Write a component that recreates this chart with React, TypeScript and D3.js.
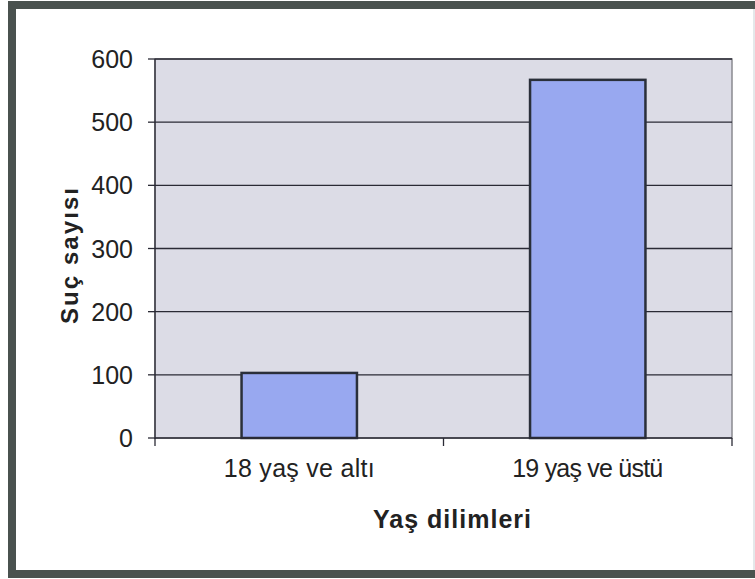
import React from "react";
import * as d3 from "d3";

const categories = ["18 yaş ve altı", "19 yaş ve üstü"];
const values = [103, 567];
const yTicks = [0, 100, 200, 300, 400, 500, 600];
const xTitle = "Yaş dilimleri";
const yTitle = "Suç sayısı";

export default function App() {
  const W = 755, H = 579;
  const left = 155, right = 732, top = 59, bottom = 438;
  const x = d3.scaleBand<string>().domain(categories).range([left, right]).paddingInner(0.6).paddingOuter(0.3);
  const band = d3.scaleBand<string>().domain(categories).range([left, right]);
  const y = d3.scaleLinear().domain([0, 600]).range([bottom, top]);
  const font = "Arial, 'Liberation Sans', sans-serif";
  return (
    <svg width={W} height={H} style={{ position: "absolute", left: 0, top: 0, display: "block" }}>
      <rect x={0} y={0} width={W} height={H} fill="#ffffff" />
      <rect x={12} y={5} width={W + 10} height={569} fill="#ffffff" stroke="#4a524f" strokeWidth={8} />
      <line x1={754} x2={754} y1={9} y2={570} stroke="#e4e8ea" strokeWidth={2} />
      <rect x={left} y={top} width={right - left} height={bottom - top} fill="#dcdce6" stroke="#8a8a90" strokeWidth={1.5} />
      {yTicks.map((t) => (
        <g key={t}>
          {t > 0 && <line x1={left} x2={right} y1={y(t)} y2={y(t)} stroke="#2a2a35" strokeWidth={1.3} />}
          <line x1={left - 7} x2={left} y1={y(t)} y2={y(t)} stroke="#2a2a35" strokeWidth={1.3} />
          <text x={left - 22} y={y(t)} dy="0.36em" textAnchor="end" fontFamily={font} fontSize={25} fill="#222">{t}</text>
        </g>
      ))}
      {categories.map((c, i) => (
        <rect key={c} x={x(c)!} y={y(values[i])} width={x.bandwidth()} height={bottom - y(values[i])}
          fill="#98a8f0" stroke="#2a2f3a" strokeWidth={2.5} />
      ))}
      <line x1={left} x2={left} y1={top} y2={bottom + 1} stroke="#2a2a35" strokeWidth={1.3} />
      <line x1={left} x2={right} y1={bottom} y2={bottom} stroke="#2a2a35" strokeWidth={1.5} />
      {[...categories.map((c) => band(c)!), right].map((v, i) => (
        <line key={i} x1={v} x2={v} y1={bottom} y2={bottom + 8} stroke="#2a2a35" strokeWidth={1.3} />
      ))}
      {categories.map((c) => (
        <text key={c} x={band(c)! + band.bandwidth() / 2} y={477} textAnchor="middle" fontFamily={font} fontSize={25}
          textLength={151} lengthAdjust="spacing" fill="#222">{c}</text>
      ))}
      <text x={452} y={528} textAnchor="middle" fontFamily={font} fontSize={25} fontWeight="bold"
        textLength={158} lengthAdjust="spacing" fill="#222">{xTitle}</text>
      <text transform={`translate(78, 256) rotate(-90)`} textAnchor="middle" fontFamily={font} fontSize={24} fontWeight="bold"
        textLength={136} lengthAdjust="spacing" fill="#222">{yTitle}</text>
    </svg>
  );
}
